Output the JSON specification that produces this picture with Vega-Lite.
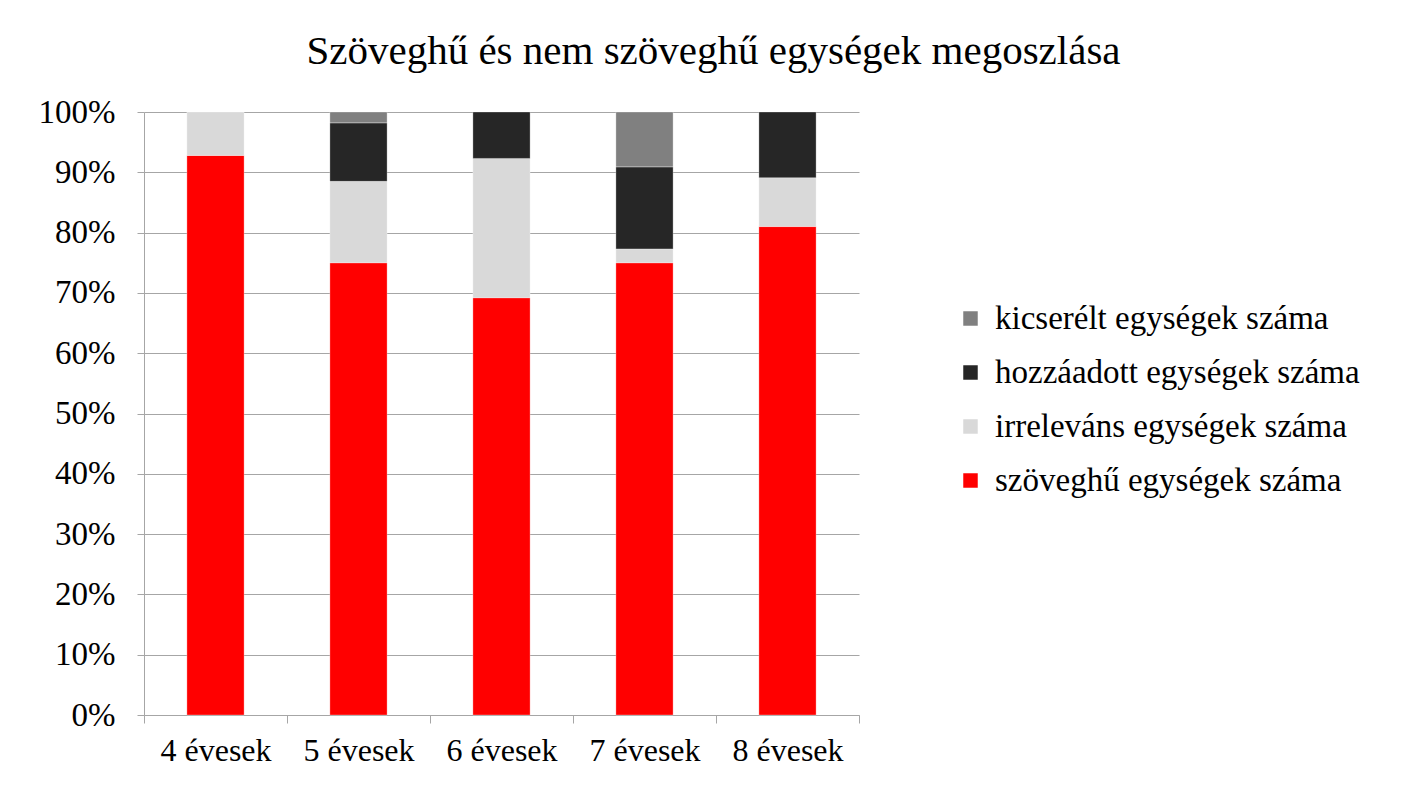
{
  "$schema": "https://vega.github.io/schema/vega-lite/v6.json",
  "width": 715,
  "height": 603,
  "autosize": {"type": "none"},
  "padding": {"left": 144, "top": 112, "right": 543, "bottom": 70},
  "background": "white",
  "title": {
    "text": "Szöveghű és nem szöveghű egységek megoszlása",
    "font": "Liberation Serif",
    "fontSize": 41,
    "fontWeight": "normal",
    "color": "black",
    "anchor": "middle",
    "dx": 212,
    "offset": 23
  },
  "data": {
    "values": [
      {"kor": "4 évesek", "tipus": "szöveghű egységek száma", "rend": 1, "ertek": 92.8},
      {"kor": "4 évesek", "tipus": "irreleváns egységek száma", "rend": 2, "ertek": 7.2},
      {"kor": "5 évesek", "tipus": "szöveghű egységek száma", "rend": 1, "ertek": 75.0},
      {"kor": "5 évesek", "tipus": "irreleváns egységek száma", "rend": 2, "ertek": 13.5},
      {"kor": "5 évesek", "tipus": "hozzáadott egységek száma", "rend": 3, "ertek": 9.7},
      {"kor": "5 évesek", "tipus": "kicserélt egységek száma", "rend": 4, "ertek": 1.8},
      {"kor": "6 évesek", "tipus": "szöveghű egységek száma", "rend": 1, "ertek": 69.2},
      {"kor": "6 évesek", "tipus": "irreleváns egységek száma", "rend": 2, "ertek": 23.1},
      {"kor": "6 évesek", "tipus": "hozzáadott egységek száma", "rend": 3, "ertek": 7.7},
      {"kor": "7 évesek", "tipus": "szöveghű egységek száma", "rend": 1, "ertek": 75.0},
      {"kor": "7 évesek", "tipus": "irreleváns egységek száma", "rend": 2, "ertek": 2.3},
      {"kor": "7 évesek", "tipus": "hozzáadott egységek száma", "rend": 3, "ertek": 13.6},
      {"kor": "7 évesek", "tipus": "kicserélt egységek száma", "rend": 4, "ertek": 9.1},
      {"kor": "8 évesek", "tipus": "szöveghű egységek száma", "rend": 1, "ertek": 81.0},
      {"kor": "8 évesek", "tipus": "irreleváns egységek száma", "rend": 2, "ertek": 8.1},
      {"kor": "8 évesek", "tipus": "hozzáadott egységek száma", "rend": 3, "ertek": 10.9}
    ]
  },
  "mark": {"type": "bar", "width": {"band": 0.4}, "stroke": "white", "strokeWidth": 0.5, "strokeOpacity": 0.6},
  "encoding": {
    "x": {
      "field": "kor",
      "type": "nominal",
      "title": null,
      "scale": {"paddingInner": 0, "paddingOuter": 0},
      "axis": {
        "labelAngle": 0,
        "labelFont": "Liberation Serif",
        "labelFontSize": 32,
        "labelColor": "black",
        "labelPadding": 12,
        "tickBand": "extent",
        "tickColor": "#a6a6a6",
        "tickSize": 8,
        "domainColor": "#a6a6a6",
        "domainWidth": 1,
        "grid": false
      }
    },
    "y": {
      "field": "ertek",
      "type": "quantitative",
      "stack": "normalize",
      "title": null,
      "scale": {"domain": [0, 1]},
      "axis": {
        "format": ".0%",
        "values": [0, 0.1, 0.2, 0.3, 0.4, 0.5, 0.6, 0.7, 0.8, 0.9, 1],
        "labelOverlap": false,
        "labelFont": "Liberation Serif",
        "labelFontSize": 33,
        "labelColor": "black",
        "labelPadding": 22,
        "tickColor": "#a6a6a6",
        "tickSize": 7,
        "domainColor": "#a6a6a6",
        "gridColor": "#a6a6a6",
        "gridWidth": 1.2
      }
    },
    "color": {
      "field": "tipus",
      "type": "nominal",
      "scale": {
        "domain": ["kicserélt egységek száma", "hozzáadott egységek száma", "irreleváns egységek száma", "szöveghű egységek száma"],
        "range": ["#808080", "#262626", "#d9d9d9", "#ff0000"]
      },
      "legend": {
        "title": null,
        "orient": "none",
        "legendX": 810,
        "legendY": 190,
        "symbolType": "square",
        "symbolSize": 210,
        "symbolStrokeWidth": 0,
        "labelFont": "Liberation Serif",
        "labelFontSize": 33,
        "labelColor": "black",
        "labelLimit": 500,
        "rowPadding": 20,
        "labelOffset": 8
      }
    },
    "order": {"field": "rend", "sort": "ascending"}
  },
  "config": {
    "view": {"stroke": null}
  }
}
